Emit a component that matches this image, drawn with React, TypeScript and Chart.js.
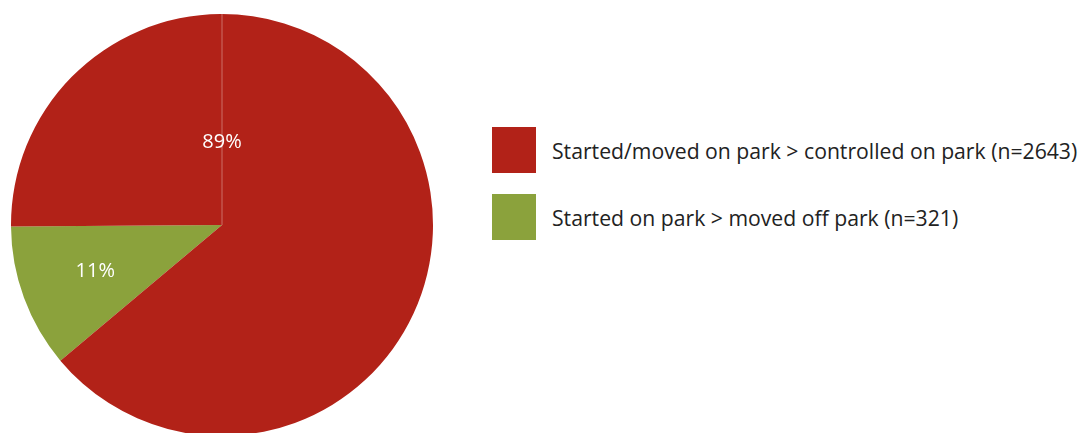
import React, { useEffect, useRef } from "react";
import { Chart, registerables } from "chart.js";
Chart.register(...registerables);

const categories = ["Started/moved on park > controlled on park (n=2643)", "Started on park > moved off park (n=321)"];
const values = [89, 11];
const valueLabels = ["89%", "11%"];
const colors = ["#B22218", "#8BA23C"];

export default function App() {
  const ref = useRef<HTMLCanvasElement>(null);
  useEffect(() => {
    const labelPlugin = {
      id: "lbl",
      afterDatasetsDraw(chart: any) {
        const ctx = chart.ctx;
        const arcs = chart.getDatasetMeta(0).data;
        const g = arcs[0];
        const cx = g.x, cy = g.y, r = g.outerRadius;
        ctx.save();
        ctx.strokeStyle = "rgba(255,255,255,0.35)";
        ctx.lineWidth = 1;
        ctx.beginPath();
        ctx.moveTo(cx, cy);
        ctx.lineTo(cx, cy - r);
        ctx.stroke();
        ctx.fillStyle = "#fff";
        ctx.font = "20px 'Open Sans', sans-serif";
        ctx.textAlign = "center";
        ctx.textBaseline = "middle";
        ctx.fillText(valueLabels[0], cx, cy - r * 0.39);
        const mid = (g.startAngle + g.endAngle) / 2;
        ctx.fillText(valueLabels[1], cx + Math.cos(mid) * r * 0.64, cy + Math.sin(mid) * r * 0.64);
        ctx.restore();
      },
    };
    const chart = new Chart(ref.current!, {
      type: "pie",
      data: {
        labels: [categories[1], categories[0]],
        datasets: [{ data: [values[1], values[0]], backgroundColor: [colors[1], colors[0]], borderWidth: 0 }],
      },
      options: {
        animation: false,
        responsive: false,
        rotation: 230,
        layout: { padding: 3 },
        plugins: { legend: { display: false }, tooltip: { enabled: false } },
      },
      plugins: [labelPlugin],
    });
    return () => chart.destroy();
  }, []);
  return (
    <div style={{ position: "relative", width: 1082, height: 425, overflow: "hidden", fontFamily: "'Open Sans', sans-serif" }}>
      <canvas ref={ref} width={428} height={440} style={{ position: "absolute", left: 0, top: -3 }} />
      {categories.map((c, i) => (
        <div key={i} style={{ position: "absolute", left: 484, top: 119 + i * 67, display: "flex", alignItems: "center", height: 46 }}>
          <div style={{ width: 44, height: 46, background: colors[i] }} />
          <div style={{ marginLeft: 16, fontSize: 21.2, color: "#222", whiteSpace: "nowrap" }}>{c}</div>
        </div>
      ))}
    </div>
  );
}
